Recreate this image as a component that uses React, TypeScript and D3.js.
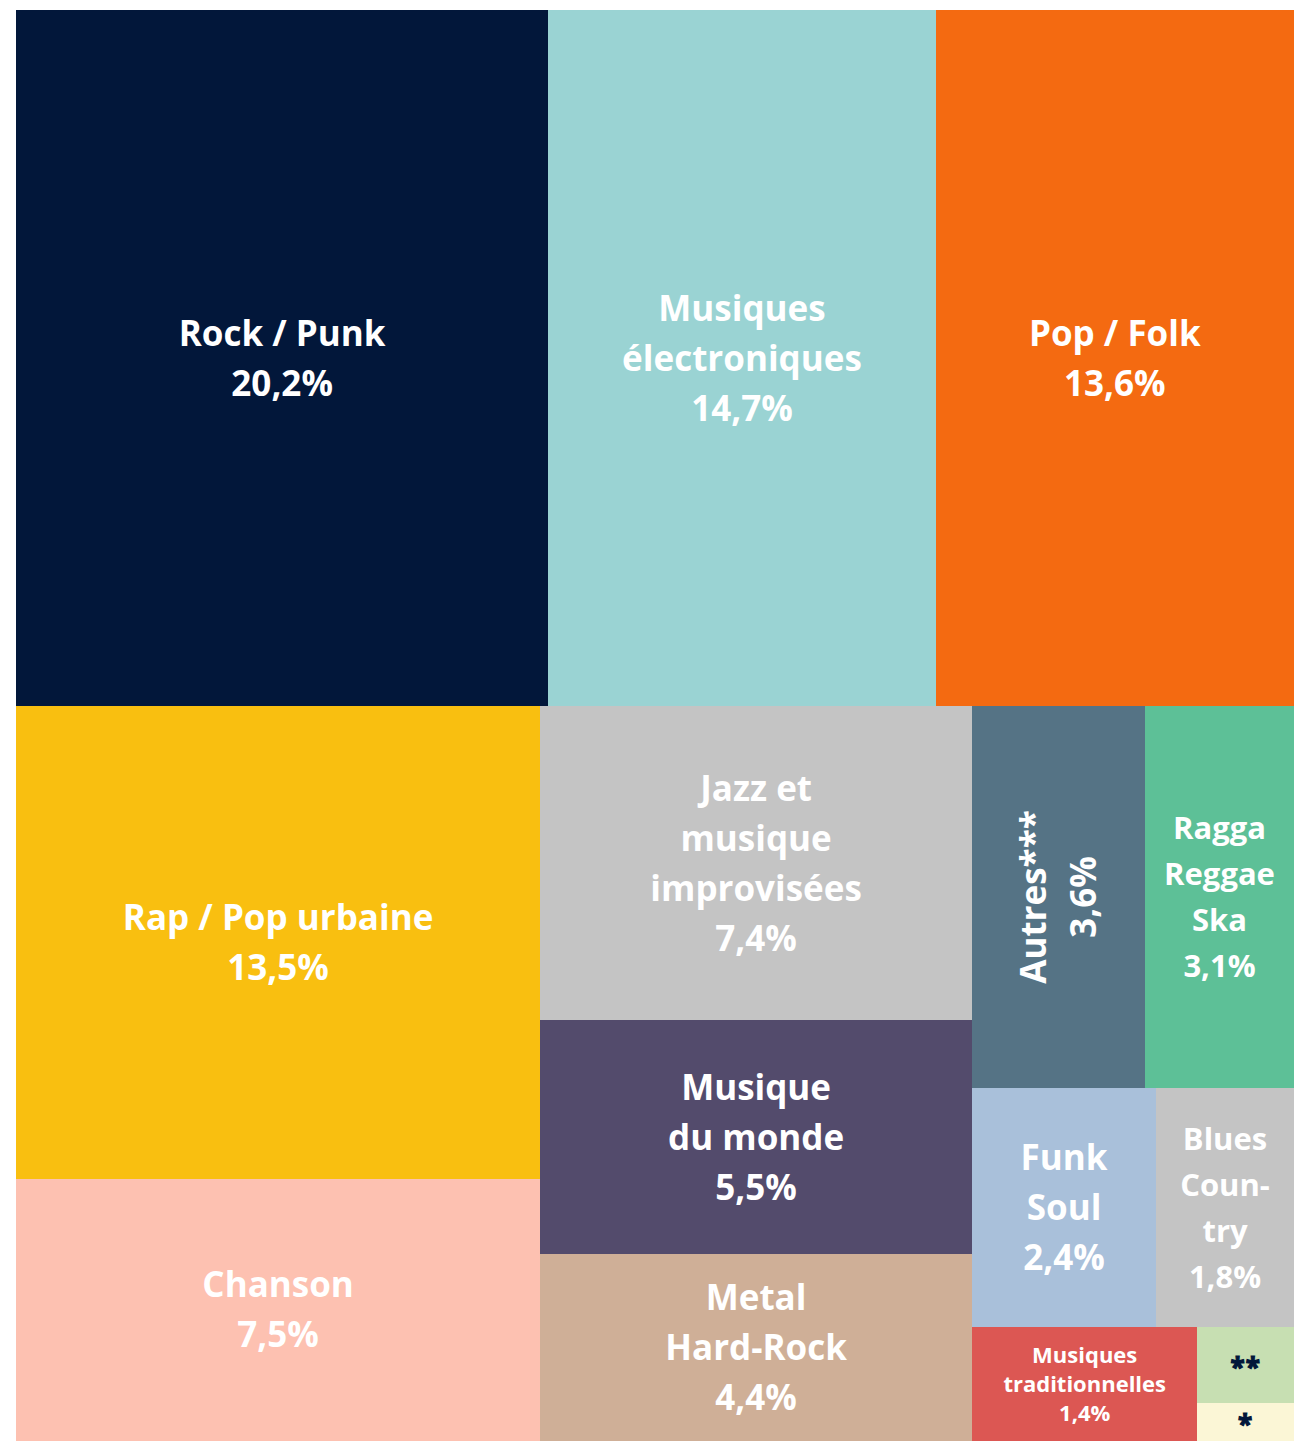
import { useEffect, useRef } from 'react';
import * as d3 from 'd3';

// genres, in the order of the reference (largest first)
const genres = [
  'Rock / Punk',
  'Musiques électroniques',
  'Pop / Folk',
  'Rap / Pop urbaine',
  'Chanson',
  'Jazz et musique improvisées',
  'Musique du monde',
  'Metal Hard-Rock',
  'Autres***',
  'Ragga Reggae Ska',
  'Funk Soul',
  'Blues Country',
  'Musiques traditionnelles',
  '**',
  '*',
];

// share in % (the two starred cells carry no label, estimated from their area)
const shares = [20.2, 14.7, 13.6, 13.5, 7.5, 7.4, 5.5, 4.4, 3.6, 3.1, 2.4, 1.8, 1.4, 0.4, 0.2];

// whether the percentage is printed
const showShare = [true, true, true, true, true, true, true, true, true, true, true, true, true, false, false];

// text lines as they are broken in the cells
const labelLines = [
  ['Rock / Punk'],
  ['Musiques', 'électroniques'],
  ['Pop / Folk'],
  ['Rap / Pop urbaine'],
  ['Chanson'],
  ['Jazz et', 'musique', 'improvisées'],
  ['Musique', 'du monde'],
  ['Metal', 'Hard-Rock'],
  ['Autres***'],
  ['Ragga', 'Reggae', 'Ska'],
  ['Funk', 'Soul'],
  ['Blues', 'Coun-', 'try'],
  ['Musiques', 'traditionnelles'],
  ['**'],
  ['*'],
];

const palette = [
  '#02173a', '#9ad3d3', '#f46a11', '#f9bf10', '#fdc1b1', '#c4c4c4', '#534b6c',
  '#cfaf97', '#557385', '#5dc097', '#a9c0da', '#c4c4c4', '#dc5753', '#c7dfb2', '#fbf6d6',
];

const darkText = new Set(['**', '*']);
const rotated = new Set(['Autres***']);

const fmt = (v: number) => v.toFixed(1).replace('.', ',') + '%';

interface Cell {
  name: string;
  value: number;
  lines: string[];
  color: string;
}

export default function App() {
  const svgRef = useRef<SVGSVGElement>(null);
  const width = 1294;
  const height = 1441;
  const margin = { top: 10, right: 0, bottom: 0, left: 16 };

  useEffect(() => {
    if (!svgRef.current) return;
    const svg = d3.select(svgRef.current);
    svg.selectAll('*').remove();

    const cells: Cell[] = genres.map((name, i) => ({
      name,
      value: shares[i],
      lines: showShare[i] ? [...labelLines[i], fmt(shares[i])] : labelLines[i],
      color: palette[i],
    }));

    const root = d3
      .hierarchy<any>({ children: cells })
      .sum((d) => d.value || 0)
      .sort((a, b) => (b.value || 0) - (a.value || 0));

    d3.treemap<any>()
      .tile(d3.treemapSquarify)
      .size([width - margin.left - margin.right, height - margin.top - margin.bottom])
      .round(false)(root);

    const g = svg.append('g').attr('transform', `translate(${margin.left},${margin.top})`);

    const leaves = root.leaves() as d3.HierarchyRectangularNode<any>[];

    const node = g
      .selectAll('g.cell')
      .data(leaves)
      .join('g')
      .attr('class', 'cell');

    node
      .append('rect')
      .attr('x', (d) => d.x0)
      .attr('y', (d) => d.y0)
      .attr('width', (d) => d.x1 - d.x0)
      .attr('height', (d) => d.y1 - d.y0)
      .attr('fill', (d) => d.data.color)
      .attr('shape-rendering', 'crispEdges');

    // line spacing for each font size
    const lineGap: Record<number, number> = { 35: 50, 31: 46, 22: 29 };

    node.each(function (d) {
      const cell = d3.select(this);
      const w = d.x1 - d.x0;
      const h = d.y1 - d.y0;
      const cx = (d.x0 + d.x1) / 2;
      const cy = (d.y0 + d.y1) / 2;
      const isRot = rotated.has(d.data.name);
      const room = isRot ? h : w;
      const across = isRot ? w : h;
      const star = darkText.has(d.data.name);

      const text = cell
        .append('text')
        .attr('text-anchor', 'middle')
        .attr('fill', star ? '#02173a' : '#ffffff')
        .style('font-family', '"Open Sans", Lato, sans-serif')
        .style('font-weight', 700);

      if (isRot) text.attr('transform', `translate(${cx},${cy}) rotate(-90)`);
      else text.attr('transform', `translate(${cx},${cy})`);

      const n = d.data.lines.length;
      const sizes = room >= 180 ? [35, 31, 22] : [31, 22];
      let size = sizes[0];
      for (const s of sizes) {
        size = s;
        text.style('font-size', `${s}px`);
        text.selectAll('tspan').remove();
        const spans = d.data.lines.map((l: string) => text.append('tspan').text(l));
        const widest = d3.max(spans, (t) => (t.node() as SVGTSpanElement).getComputedTextLength()) || 0;
        if (star || (widest <= room - 8 && n * lineGap[s] <= across - 4)) break;
      }

      const gap = lineGap[size];
      text
        .selectAll('tspan')
        .attr('x', 0)
        .attr('y', (_, i) => (i - (n - 1) / 2) * gap)
        .attr('dy', star ? '0.45em' : '0.36em');
      if (star) {
        text
          .style('font-size', '26px')
          .attr('stroke', '#02173a')
          .attr('stroke-width', 1.2)
          .attr('letter-spacing', 1);
      }
    });
  }, []);

  return (
    <svg
      ref={svgRef}
      width={width}
      height={height}
      viewBox={`0 0 ${width} ${height}`}
      style={{ position: 'absolute', left: 0, top: 0, background: '#ffffff' }}
    />
  );
}
